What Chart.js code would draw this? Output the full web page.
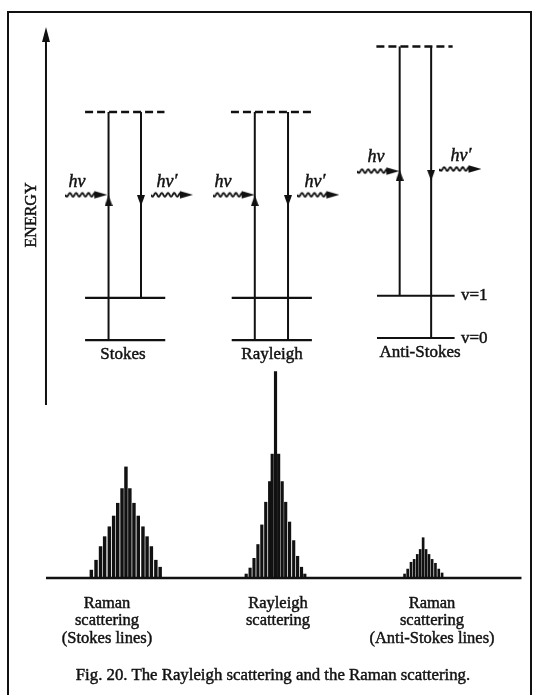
<!DOCTYPE html>
<html><head><meta charset="utf-8">
<script src="https://cdn.jsdelivr.net/npm/chart.js@4"></script>
<style>
html,body{margin:0;padding:0;background:#fff;}
#wrap{position:relative;width:535px;height:695px;overflow:hidden;background:#fff;}
#frame{position:absolute;left:7px;top:11px;width:525px;height:692px;border:2px solid #111;box-sizing:border-box;}
#c{position:absolute;left:0;top:0;}
.t{position:absolute;font-family:"Liberation Serif","Times New Roman",serif;color:#111;white-space:nowrap;transform:translate(-50%,-50%);font-size:17px;line-height:1;-webkit-text-stroke:0.45px #111;}
.i{font-style:italic;font-size:18px;}
.l{transform:translate(0,-50%);}
.s{font-size:16.5px;}
</style></head><body>
<div id="wrap">
<div id="frame"></div>
<canvas id="c" width="535" height="695"></canvas>
<div class="t" style="left:30.5px;top:215px;font-size:16px;transform:translate(-50%,-50%) rotate(-90deg);">ENERGY</div>
<div class="t i" style="left:77px;top:181px;">hν</div>
<div class="t i" style="left:167px;top:181px;">hν′</div>
<div class="t i" style="left:223px;top:181px;">hν</div>
<div class="t i" style="left:315px;top:181px;">hν′</div>
<div class="t i" style="left:376px;top:156px;">hν</div>
<div class="t i" style="left:461px;top:155px;">hν′</div>
<div class="t" style="left:123px;top:353px;">Stokes</div>
<div class="t" style="left:272px;top:353px;">Rayleigh</div>
<div class="t" style="left:420px;top:351px;">Anti-Stokes</div>
<div class="t l" style="left:461px;top:294px;">v=1</div>
<div class="t l" style="left:461px;top:337px;">v=0</div>
<div class="t s" style="left:107px;top:603px;">Raman</div>
<div class="t s" style="left:107px;top:620px;">scattering</div>
<div class="t s" style="left:107px;top:638px;">(Stokes lines)</div>
<div class="t s" style="left:278px;top:603px;">Rayleigh</div>
<div class="t s" style="left:278px;top:620px;">scattering</div>
<div class="t s" style="left:432px;top:603px;">Raman</div>
<div class="t s" style="left:432px;top:620px;">scattering</div>
<div class="t s" style="left:432px;top:638px;">(Anti-Stokes lines)</div>
<div class="t" style="left:273px;top:675px;font-size:16.8px;">Fig. 20. The Rayleigh scattering and the Raman scattering.</div>
</div>
<script>
// ---------- Spectrum (lower panel) ----------
// relative frequency shift (arb. units, Rayleigh line = 0) and intensity (% of Rayleigh peak)
const stokesShift = [-47.1,-45.9,-44.75,-43.7,-42.5,-41.4,-40.35,-39.25,-38.25,-37.25,-36.2,-35.1,-33.9,-32.85,-31.75,-30.6,-29.5];
const stokesInt   = [3.8,8.6,15.2,20,24.8,30,36.2,43.3,53.8,43.3,36.2,30,24.8,20,15.2,8.6,5.2];
const rayleighShift = [-7.5,-6.5,-5.5,-4.5,-3.5,-2.5,-1.5,-0.85,0,0.8,1.7,2.6,3.6,4.65,5.65,6.65,7.5];
const rayleighInt   = [1.9,4.8,9.5,16.2,25.7,36.7,46.7,60,100,60,46.7,36.7,27.1,18.1,10.5,5.2,1.9];
const antiShift = [33,33.8,34.65,35.45,36.25,37,37.75,38.5,39.25,40.05,40.9,41.75,42.6];
const antiInt   = [1.9,4.3,7.6,9,11.4,13.8,19.5,13.8,11.4,9,7.1,4.3,2.4];
const baselineSpan = [-58.7, 62.9];

// ---------- Energy-level diagram (upper panel) ----------
const processes     = ['Stokes','Rayleigh','Anti-Stokes'];
const levelV0       = [0, 0, 0.05];
const levelV1       = [1, 1, 1.05];
const virtualLevel  = [5.4, 5.4, 6.95];
const levelFrom     = [-48.7, -11.2, 25.95];
const levelTo       = [-28.2, 9.3, 45.8];
const dashFrom      = [-48.7, -11.4, 25.8];
const dashTo        = [-28.4, 9.1, 45.3];
const absorbX       = [-42.7, -5.3, 31.75];
const absorbStart   = [0, 0, 1.05];
const emitX         = [-34.4, 3.2, 39.8];
const emitEnd       = [1, 0, 0.05];
const arrowHeadE    = [3.3, 3.3, 3.9];
const photonInX     = [-48.4, -10.7, 26.3];
const photonInE     = [3.44, 3.44, 4.0];
const photonOutX    = [-26.5, 10.95, 47.3];
const photonOutE    = [3.44, 3.44, 4.05];
const energyAxisX   = -58.7;
const energyAxisE   = [-1.535, 7.23];

const INK = '#111';

// glyph images
function headImg(w, h){
  const c = document.createElement('canvas'); c.width = w; c.height = h;
  const g = c.getContext('2d'); g.fillStyle = INK;
  g.beginPath(); g.moveTo(w/2,0); g.lineTo(w,h); g.lineTo(0,h); g.closePath(); g.fill();
  return c;
}
function waveArrowImg(){
  const w = 42, h = 10, c = document.createElement('canvas'); c.width = w; c.height = h;
  const g = c.getContext('2d'); g.strokeStyle = INK; g.fillStyle = INK; g.lineWidth = 1.8;
  g.beginPath();
  for (let i = 0; i <= 30; i += 0.5){
    const yy = h/2 + 1.8*Math.sin(i/6.2*2*Math.PI);
    if (i === 0) g.moveTo(i, yy); else g.lineTo(i, yy);
  }
  g.lineTo(32, h/2); g.stroke();
  g.beginPath(); g.moveTo(w, h/2); g.lineTo(29, h/2-3.8); g.lineTo(29, h/2+3.8); g.closePath(); g.fill();
  return c;
}
const smallHead = headImg(8, 11);
const axisHead = headImg(8, 15);
const waveArrow = waveArrowImg();

const datasets = [];
function seg(x1,y1,x2,y2,axis,width,dash){
  datasets.push({type:'line', xAxisID:'x', yAxisID:axis, data:[{x:x1,y:y1},{x:x2,y:y2}],
    borderColor:INK, borderWidth:width, borderDash:dash||[], pointRadius:0, fill:false, tension:0, borderCapStyle:'butt'});
}
function marks(points, axis, style, rot){
  datasets.push({type:'scatter', xAxisID:'x', yAxisID:axis, data:points, pointStyle:style,
    rotation:rot, pointRadius:5, showLine:false, backgroundColor:INK, borderColor:INK});
}

// energy axis
seg(energyAxisX, energyAxisE[0], energyAxisX, energyAxisE[1]-0.1, 'ye', 2);
marks([{x:energyAxisX, y:energyAxisE[1]}], 'ye', axisHead, 0);

processes.forEach((p, i) => {
  seg(levelFrom[i], levelV0[i], levelTo[i], levelV0[i], 'ye', 2.2);
  seg(levelFrom[i], levelV1[i], levelTo[i], levelV1[i], 'ye', 2.2);
  seg(dashFrom[i], virtualLevel[i], dashTo[i], virtualLevel[i], 'ye', 2.4, [8,4]);
  seg(absorbX[i], absorbStart[i], absorbX[i], virtualLevel[i], 'ye', 2);
  seg(emitX[i], virtualLevel[i], emitX[i], emitEnd[i], 'ye', 2);
  marks([{x:absorbX[i], y:arrowHeadE[i]}], 'ye', smallHead, 0);
  marks([{x:emitX[i], y:arrowHeadE[i]}], 'ye', smallHead, 180);
  marks([{x:photonInX[i], y:photonInE[i]}, {x:photonOutX[i], y:photonOutE[i]}], 'ye', waveArrow, 0);
});

// spectrum
seg(baselineSpan[0], 0, baselineSpan[1], 0, 'ys', 2.4);
function bars(xs, ys, th){
  datasets.push({type:'bar', xAxisID:'x', yAxisID:'ys', grouped:false, barThickness:th,
    data: xs.map((v,k)=>({x:v, y:ys[k]})), backgroundColor:INK, borderWidth:0});
}
bars(stokesShift, stokesInt, 2.8);
bars(rayleighShift, rayleighInt, 2.5);
bars(antiShift, antiInt, 2.0);

new Chart(document.getElementById('c'), {
  type:'scatter',
  data:{datasets},
  options:{
    responsive:false, animation:false, devicePixelRatio:1, events:[],
    layout:{padding:0},
    plugins:{legend:{display:false}, tooltip:{enabled:false}},
    scales:{
      x:{type:'linear', min:-68.925, max:64.825, display:false, offset:false},
      ye:{type:'linear', position:'left', min:-8.2558, max:7.9070, display:false},
      ys:{type:'linear', position:'left', min:-53.81, max:277.14, display:false}
    }
  }
});
</script>
</body></html>
